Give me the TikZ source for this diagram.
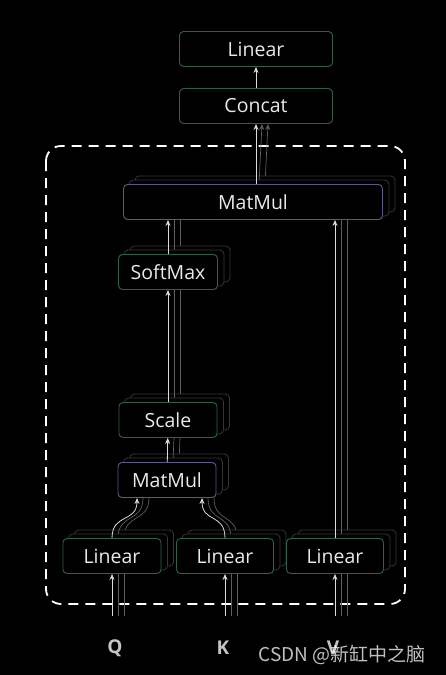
\documentclass[tikz,border=0pt]{standalone}
\usepackage{fontspec}
\setmainfont{Open Sans}
\newfontfamily\cjkfont{Noto Sans CJK SC}
\usetikzlibrary{arrows.meta}

\pgfdeclarelayer{bg}
\pgfdeclarelayer{shade}
\pgfsetlayers{bg,shade,main}

\definecolor{boxgreen}{HTML}{2E6152}
\definecolor{boxpurple}{HTML}{5C5A84}
\definecolor{ghostgray}{HTML}{363636}
\definecolor{wire}{HTML}{DCDCDC}
\definecolor{wiregray}{HTML}{5E5E5E}
\definecolor{txt}{HTML}{EAEAEA}
\definecolor{inputtxt}{HTML}{C4C4C4}

\begin{document}
\begin{tikzpicture}[
  x=1pt,
  y=-1pt,
  block/.style={
    draw=boxgreen,
    fill=black,
    rounded corners=4pt,
    line width=0.9pt,
    text=txt,
    font=\fontsize{19.5}{21}\selectfont,
    minimum height=35pt,
    inner sep=0pt
  },
  mulblock/.style={
    block,
    draw=boxpurple
  },
  ghost/.style={
    draw=ghostgray,
    fill=black,
    rounded corners=4pt,
    line width=0.8pt
  },
  arr/.style={
    ->,
    draw=wire,
    line width=0.8pt
  },
  ghostline/.style={
    draw=wiregray,
    line width=0.7pt
  },
  label/.style={
    text=inputtxt,
    font=\bfseries\fontsize{19}{21}\selectfont
  },
  >={Stealth[length=6pt,width=5pt]}
]

\useasboundingbox (0,0) rectangle (446,675);
\begin{pgfonlayer}{bg}
  \fill[black] (0,0) rectangle (446,675);
  \draw[white, line width=1.8pt, dash pattern=on 10pt off 7pt, rounded corners=15pt]
    (46,146) rectangle (405,604);
\end{pgfonlayer}

% Blocks
\node[block, minimum width=153pt] (lin) at (256,49) {Linear};
\node[block, minimum width=153pt] (cat) at (256,106) {Concat};
\node[mulblock, minimum width=259pt] (mmb) at (253,202) {MatMul};
\node[block, minimum width=99pt] (soft) at (168,272) {SoftMax};
\node[block, minimum width=98pt] (scl) at (168,420) {Scale};
\node[mulblock, minimum width=98pt] (mms) at (167,480) {MatMul};
\node[block, minimum width=98pt] (lq) at (112,556) {Linear};
\node[block, minimum width=97pt] (lk) at (225,556) {Linear};
\node[block, minimum width=97pt] (lv) at (335,556) {Linear};

% Inputs
\node[label] (q) at (115,648) {Q};
\node[label] (k) at (223,648) {K};
\node[label] (v) at (333,648) {V};
\coordinate (qin) at (112,616);
\coordinate (kin) at (225,616);
\coordinate (vin) at (335,616);
\coordinate (mq) at ([xshift=-30pt]mms.south);
\coordinate (mk) at ([xshift=35pt]mms.south);
\coordinate (mv) at (mmb.south -| lv.north);
\coordinate (ms) at (mmb.south -| soft.north);

% Stacked heads
\begin{pgfonlayer}{shade}
\foreach \s in {2,1} {
  \draw[ghostline] ([xshift=\s*6pt]qin) -- ([xshift=\s*6pt]lq.south);
  \draw[ghostline] ([xshift=\s*6pt]kin) -- ([xshift=\s*6pt]lk.south);
  \draw[ghostline] ([xshift=\s*6pt]vin) -- ([xshift=\s*6pt]lv.south);
  \draw[ghostline] ([xshift=\s*6pt]lq.north) .. controls +(0,-25) and +(0,25) .. ([xshift=\s*6pt]mq);
  \draw[ghostline] ([xshift=\s*6pt]lk.north) .. controls +(0,-25) and +(0,25) .. ([xshift=\s*6pt]mk);
  \draw[ghostline] ([xshift=\s*6pt]mms.north) -- ([xshift=\s*6pt]scl.south);
  \draw[ghostline] ([xshift=\s*6pt]scl.north) -- ([xshift=\s*6pt]soft.south);
  \draw[ghostline] ([xshift=\s*6pt]soft.north) -- ([xshift=\s*6pt]ms);
  \draw[ghostline] ([xshift=\s*6pt]lv.north) -- ([xshift=\s*6pt]mv);
  \draw[ghostline, ->] ([xshift=\s*6pt]mmb.north) -- ([xshift=\s*6pt]cat.south);
  \foreach \b in {mmb,soft,scl,mms,lq,lk,lv} {
    \draw[ghost] ([xshift=\s*6pt,yshift=\s*4pt]\b.south west)
      rectangle ([xshift=\s*6pt,yshift=\s*4pt]\b.north east);
  }
}
\end{pgfonlayer}

% Arrows
\draw[arr] (qin) -- (lq);
\draw[arr] (kin) -- (lk);
\draw[arr] (vin) -- (lv);
\draw[arr] (lq.north) .. controls +(0,-25) and +(0,25) .. (mq);
\draw[arr] (lk.north) .. controls +(0,-25) and +(0,25) .. (mk);
\draw[arr] (mms) -- (scl);
\draw[arr] (scl) -- (soft);
\draw[arr] (soft.north) -- (ms);
\draw[arr] (lv.north) -- (mv);
\draw[arr] (mmb.north -| cat.south) -- (cat.south);
\draw[arr] (cat) -- (lin);

% Watermark
\node[anchor=west, text=white, opacity=0.75, font=\cjkfont\fontsize{19}{20}\selectfont] (mark) at (255,655) {CSDN @新缸中之脑};

\end{tikzpicture}
\end{document}
